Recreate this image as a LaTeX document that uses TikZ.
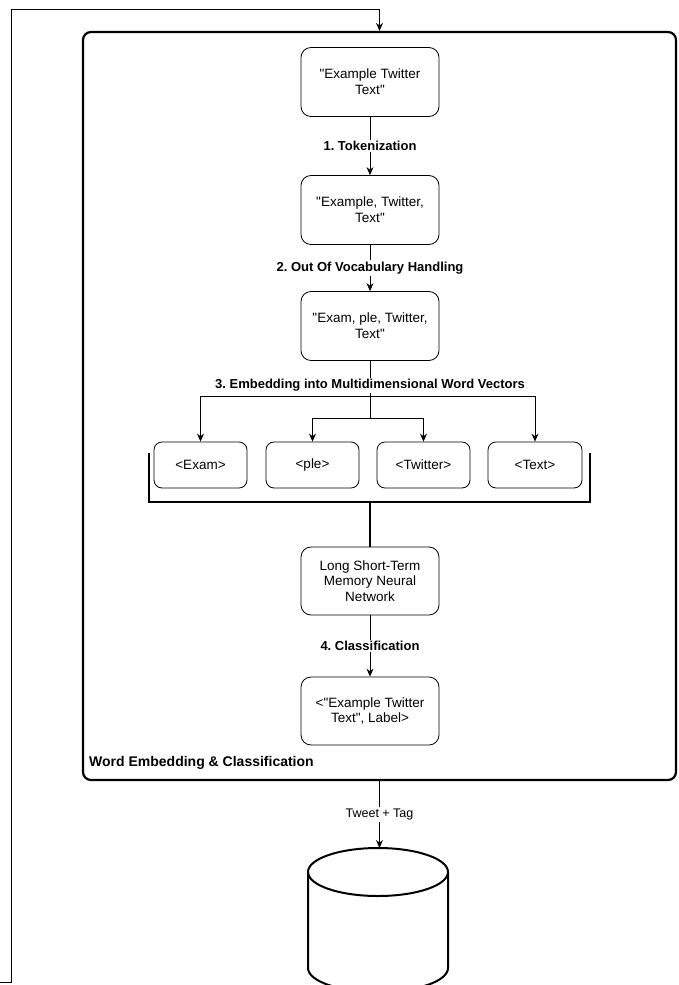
\documentclass[tikz,border=0pt]{standalone}
\usepackage{fontspec}
\setmainfont{Liberation Sans}[Ligatures=ResetAll]
\usetikzlibrary{arrows.meta}
\newcommand{\dq}{\XeTeXglyph\XeTeXglyphindex"quotedbl"\relax}
\frenchspacing

\begin{document}
\begin{tikzpicture}[x=1pt,y=-1pt,
        procbox/.style={draw,line width=0.8pt,rounded corners=10pt,minimum width=138pt,minimum height=69pt,align=center,inner sep=2pt,font=\fontsize{13.5}{15.8}\selectfont},
        wordbox/.style={draw,line width=0.8pt,rounded corners=8pt,minimum width=93pt,minimum height=46pt,inner sep=2pt,font=\fontsize{13.5}{16}\selectfont},
        steplabel/.style={fill=white,inner sep=1.5pt,font=\bfseries\fontsize{13}{15}\selectfont},
        arr/.style={-{Stealth[length=8pt,width=7pt]},line width=0.8pt}]
        \clip (0,0) rectangle (678,985);

        % outer frame
        \node[draw,line width=2.2pt,rounded corners=8pt,minimum width=593pt,minimum height=748pt] (frame) at (379.5,406) {};
        \node[anchor=west,inner sep=0pt,font=\bfseries\fontsize{14}{16}\selectfont] (framelabel) at (89,763) {Word Embedding \& Classification};

        % pipeline
        \node[procbox] (raw) at (370,82) {\dq Example Twitter\\Text\dq};
        \node[procbox] (tokens) at (370,210) {\dq Example, Twitter,\\Text\dq};
        \node[procbox] (subwords) at (370,326) {\dq Exam, ple, Twitter,\\Text\dq};

        \node[wordbox] (exam) at (200.5,465) {<Exam>};
        \node[wordbox] (ple) at (312.5,465) {<ple>};
        \node[wordbox] (twitter) at (423.5,465) {<Twitter>};
        \node[wordbox,minimum width=94pt] (text) at (535,465) {<Text>};

        \node[procbox,minimum height=68pt] (lstm) at (370,581) {Long Short-Term\\Memory Neural\\Network};
        \node[procbox,minimum height=68pt] (result) at (370,711) {<\dq Example Twitter\\Text\dq, Label>};

        \draw[arr] (raw) -- node[steplabel] {1. Tokenization} (tokens);
        \draw[arr] (tokens) -- node[steplabel] {2. Out Of Vocabulary Handling} (subwords);

        \coordinate (outer) at (370,396);
        \coordinate (split) at (370,418);
        \draw[line width=0.8pt] (subwords) -- node[steplabel,pos=0.43] {3. Embedding into Multidimensional Word Vectors} (split);
        \draw[arr] (outer) -| (exam.north);
        \draw[arr] (outer) -| (text.north);
        \draw[arr] (split) -| (ple.north);
        \draw[arr] (split) -| (twitter.north);

        % bracket joining the vectors
        \draw[line width=2pt] (149,453) -- (149,502) -- (590,502) -- (590,453);
        \coordinate (join) at (370,502);
        \draw[line width=2pt] (join) -- (lstm);

        \draw[arr] (lstm) -- node[steplabel] {4. Classification} (result);

        % database
        \coordinate (dbtop) at (379.5,848);
        \draw[arr] (frame.south) -- node[fill=white,inner sep=1.5pt,font=\fontsize{12.5}{15}\selectfont] {Tweet + Tag} (dbtop);
        \draw[line width=2pt] (308,872) -- (308,968) arc[start angle=180,end angle=0,x radius=70,y radius=24] -- (448,872);
        \draw[line width=2pt] (378,872) ellipse [x radius=70,y radius=24];

        % feedback loop
        \coordinate (fbstart) at (0,982);
        \draw[arr] (fbstart) -- (11,982) -- (11,9) -| (frame.north);
    \end{tikzpicture}
\end{document}
